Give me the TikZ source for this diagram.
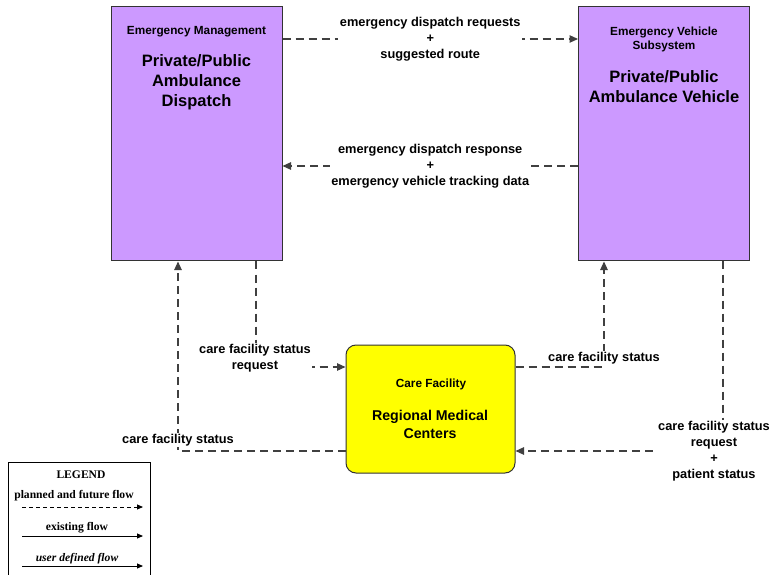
\documentclass[tikz,border=0pt]{standalone}
\usepackage{fontspec}
\setmainfont{Liberation Sans}
\newfontfamily\legfont{Liberation Serif}
\usetikzlibrary{arrows.meta}
\definecolor{lav}{HTML}{CC99FF}
\definecolor{yel}{HTML}{FFFF00}
\definecolor{edge}{HTML}{333333}
\definecolor{flowc}{HTML}{404040}
\begin{document}
\begin{tikzpicture}[x=1pt,y=-1pt,
  box/.style={draw=edge, line width=1pt, fill=lav, minimum width=171pt, minimum height=254pt, inner sep=0pt},
  cfbox/.style={draw=edge, line width=1pt, fill=yel, rounded corners=10pt, minimum width=169pt, minimum height=128pt, inner sep=0pt},
  small/.style={font=\bfseries\fontsize{11.8}{14}\selectfont, align=center, inner sep=0pt},
  big/.style={font=\bfseries\fontsize{16.5}{20}\selectfont, align=center, inner sep=0pt},
  mid/.style={font=\bfseries\fontsize{14.2}{18}\selectfont, align=center, inner sep=0pt},
  lbl/.style={font=\bfseries\fontsize{12.8}{15.8}\selectfont, align=center, fill=white, inner sep=1.5pt},
  flow/.style={draw=flowc, line width=1.1pt, dash pattern=on 8pt off 5pt, -{Triangle[length=8.5pt,width=7.5pt]}},
  legtxt/.style={font=\legfont\bfseries\fontsize{11.6}{13}\selectfont, inner sep=0pt},
  legline/.style={draw=black, line width=0.9pt, -{Triangle[length=6pt,width=5pt]}}
]
\useasboundingbox (0,0) rectangle (772,575);

% boxes
\node[box] (A) at (196.5,134) {};
\node[box] (B) at (664,134) {};
\node[cfbox] (C) at (430.5,409) {};

% box texts
\node[small] (Ah) at (196.5,32) {Emergency Management};
\node[big] (At) at (196.5,82) {Private/Public\\Ambulance\\Dispatch};
\node[small] (Bh) at (664,39.5) {Emergency Vehicle\\Subsystem};
\node[big] (Bt) at (664,87) {Private/Public\\Ambulance Vehicle};
\node[small] (Ch) at (431,384) {Care Facility};
\node[mid] (Ct) at (430,424.5) {Regional Medical\\Centers};

% connectors
\draw[flow] (A.east |- 0,39) -- node[lbl]{emergency dispatch requests\\+\\suggested route} (B.west |- 0,39);
\draw[flow] (B.west |- 0,166) -- node[lbl]{emergency dispatch response\\+\\emergency vehicle tracking data} (A.east |- 0,166);
\draw[flow] (A.south -| 256,0) |- node[lbl,pos=0.5,yshift=9pt,xshift=-1pt]{care facility status\\request} (C.west |- 0,367);
\draw[flow] (C.west |- 0,451) -| node[lbl,pos=0.5,yshift=11pt]{care facility status} (A.south -| 178,0);
\draw[flow] (C.east |- 0,367) -| node[lbl,pos=0.5,yshift=9pt]{care facility status} (B.south -| 604,0);
\draw[flow] (B.south -| 723,0) |- node[lbl,pos=0.5,xshift=-9pt]{care facility status\\request\\+\\patient status} (C.east |- 0,451);

% legend
\node[draw=black, line width=1pt, minimum width=142pt, minimum height=114pt, inner sep=0pt] (Lg) at (79,519) {};
\node[legtxt] (Lt) at (81,475) {LEGEND};
\node[legtxt] (Lp) at (74,496) {planned and future flow};
\node[legtxt] (Le) at (77,528) {existing flow};
\node[legtxt, font=\legfont\bfseries\itshape\fontsize{11.6}{13}\selectfont] (Lu) at (77,559) {user defined flow};
\coordinate (p1) at (22,507); \coordinate (p2) at (143,507);
\coordinate (e1) at (22,536); \coordinate (e2) at (143,536);
\coordinate (u1) at (22,566); \coordinate (u2) at (143,566);
\draw[legline, dash pattern=on 4pt off 3pt] (p1) -- (p2);
\draw[legline] (e1) -- (e2);
\draw[legline] (u1) -- (u2);
\end{tikzpicture}
\end{document}
